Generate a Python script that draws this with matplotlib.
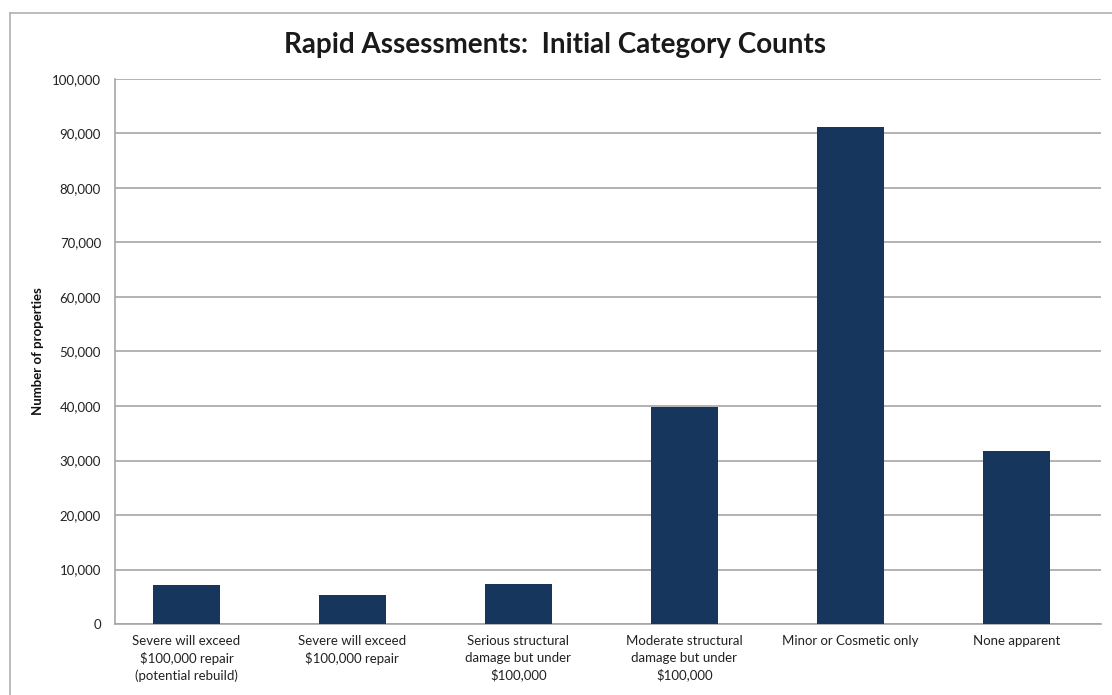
import matplotlib
matplotlib.use("Agg")
import matplotlib.pyplot as plt
from matplotlib.ticker import FuncFormatter, MultipleLocator
from matplotlib.lines import Line2D

categories = [
    "Severe will exceed\n$100,000 repair\n(potential rebuild)",
    "Severe will exceed\n$100,000 repair",
    "Serious structural\ndamage but under\n$100,000",
    "Moderate structural\ndamage but under\n$100,000",
    "Minor or Cosmetic only",
    "None apparent",
]
counts = [7100, 5300, 7300, 39900, 91200, 31700]
title = "Rapid Assessments:  Initial Category Counts"
ylabel = "Number of properties"

plt.rcParams['font.family'] = ['Lato', 'DejaVu Sans']

fig = plt.figure(figsize=(11.12, 6.95), dpi=100)
W, H = 1112, 695
ax = fig.add_axes([115 / W, 1 - 624 / H, (1101 - 115) / W, (624 - 79) / H])

x = list(range(len(categories)))
ax.bar(x, counts, width=0.40, color="#17365d", zorder=3)

ax.set_xlim(-0.43, 5.51)
ax.set_ylim(0, 100000)
ax.yaxis.set_major_locator(MultipleLocator(10000))
ax.yaxis.set_major_formatter(FuncFormatter(lambda v, p: f"{int(v):,}"))
ax.grid(axis="y", color="#a6a6a6", linewidth=1.2, zorder=0)
ax.set_xticks(x)
ax.set_xticklabels(categories, fontsize=9.5, color="#222222", linespacing=1.45, va="top")
ax.tick_params(axis="y", labelsize=9.5, colors="#222222", length=0, pad=10)
ax.tick_params(axis="x", length=0, pad=8)
for s in ["top", "right"]:
    ax.spines[s].set_visible(False)
for s in ["left", "bottom"]:
    ax.spines[s].set_color("#a6a6a6")
    ax.spines[s].set_linewidth(1.2)

ax.set_ylabel(ylabel, fontsize=9.5, fontweight="bold", color="#111111", labelpad=6)

fig.text(555 / W, 1 - 45 / H, title, ha="center", va="center",
         fontsize=20, fontweight="bold", color="#1a1a1a")

# outer chart border (top and left visible)
fig.add_artist(Line2D([10 / W, 1.0], [1 - 13 / H, 1 - 13 / H], color="#b0b0b0",
                      linewidth=1.2, transform=fig.transFigure))
fig.add_artist(Line2D([10 / W, 10 / W], [0, 1 - 13 / H], color="#b0b0b0",
                      linewidth=1.2, transform=fig.transFigure))

fig.savefig("out.png", dpi=100)
